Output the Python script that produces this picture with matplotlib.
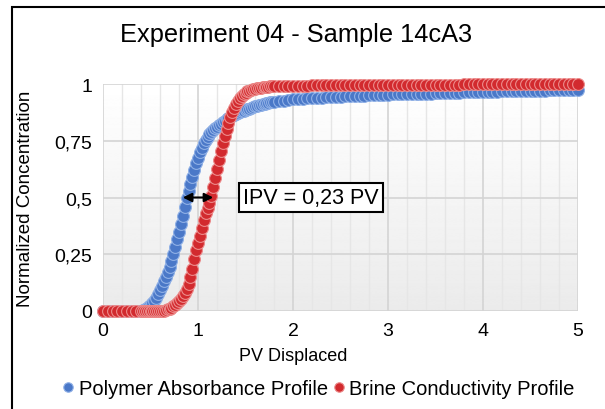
import numpy as np
import matplotlib.pyplot as plt
from matplotlib.patches import Rectangle

plt.rcParams['font.family'] = ['Liberation Sans', 'DejaVu Sans']

# ================== data ==================
pv = [0.00, 0.05, 0.10, 0.15, 0.20, 0.25, 0.30, 0.35,
      0.40, 0.42, 0.44, 0.46, 0.48, 0.50, 0.52, 0.54, 0.56, 0.58,
      0.60, 0.62, 0.64, 0.66, 0.68, 0.70, 0.72, 0.74, 0.76, 0.78,
      0.80, 0.82, 0.84, 0.86, 0.88, 0.90, 0.92, 0.94, 0.96, 0.98,
      1.00, 1.02, 1.04, 1.06, 1.08, 1.10, 1.12, 1.14, 1.16, 1.18,
      1.20, 1.22, 1.24, 1.26, 1.28, 1.30, 1.32, 1.34, 1.36, 1.38,
      1.40, 1.42, 1.44, 1.46, 1.48, 1.50, 1.52, 1.54, 1.56, 1.58,
      1.60, 1.62, 1.64, 1.66, 1.68, 1.70, 1.72, 1.74, 1.76, 1.78, 1.80,
      1.85, 1.90, 1.95, 2.00, 2.05, 2.10, 2.15, 2.20, 2.25, 2.30,
      2.35, 2.40, 2.45, 2.50, 2.55, 2.60, 2.65, 2.70, 2.75, 2.80,
      2.85, 2.90, 2.95, 3.00, 3.05, 3.10, 3.15, 3.20, 3.25, 3.30,
      3.35, 3.40, 3.45, 3.50, 3.55, 3.60, 3.65, 3.70, 3.75, 3.80,
      3.85, 3.90, 3.95, 4.00, 4.05, 4.10, 4.15, 4.20, 4.25, 4.30,
      4.35, 4.40, 4.45, 4.50, 4.55, 4.60, 4.65, 4.70, 4.75, 4.80,
      4.85, 4.90, 4.95, 5.00]

polymer = [0, 0, 0, 0, 0, 0, 0, 0,
           0.000, 0.003, 0.007, 0.013, 0.020, 0.027, 0.035, 0.045, 0.058, 0.075,
           0.092, 0.110, 0.130, 0.150, 0.172, 0.195, 0.220, 0.250, 0.280, 0.315,
           0.350, 0.385, 0.420, 0.460, 0.500, 0.530, 0.560, 0.590, 0.620, 0.650,
           0.675, 0.700, 0.720, 0.740, 0.755, 0.768, 0.780, 0.790, 0.798, 0.805,
           0.812, 0.818, 0.825, 0.832, 0.838, 0.845, 0.850, 0.855, 0.860, 0.864,
           0.868, 0.872, 0.875, 0.879, 0.882, 0.886, 0.889, 0.892, 0.895, 0.898,
           0.901, 0.904, 0.906, 0.909, 0.911, 0.913, 0.915, 0.917, 0.919, 0.921, 0.922,
           0.924, 0.927, 0.929, 0.932, 0.934, 0.935, 0.937, 0.938, 0.939, 0.940,
           0.941, 0.942, 0.943, 0.944, 0.945, 0.946, 0.947, 0.948, 0.949, 0.950,
           0.951, 0.952, 0.952, 0.953, 0.954, 0.954, 0.955, 0.956, 0.956, 0.957,
           0.957, 0.958, 0.958, 0.959, 0.960, 0.960, 0.961, 0.961, 0.962, 0.963,
           0.963, 0.964, 0.964, 0.965, 0.965, 0.966, 0.966, 0.967, 0.967, 0.968,
           0.968, 0.969, 0.969, 0.970, 0.970, 0.971, 0.971, 0.972, 0.972, 0.973,
           0.973, 0.974, 0.974, 0.975]

brine = [0, 0, 0, 0, 0, 0, 0, 0,
         0, 0, 0, 0, 0, 0, 0, 0, 0, 0,
         0, 0, 0.002, 0.004, 0.007, 0.010, 0.015, 0.020, 0.027, 0.035,
         0.045, 0.055, 0.067, 0.080, 0.097, 0.120, 0.150, 0.185, 0.230, 0.270,
         0.300, 0.330, 0.365, 0.400, 0.430, 0.455, 0.475, 0.505, 0.545, 0.585,
         0.625, 0.665, 0.705, 0.740, 0.770, 0.800, 0.830, 0.855, 0.875, 0.895,
         0.910, 0.925, 0.937, 0.947, 0.955, 0.962, 0.967, 0.971, 0.974, 0.977,
         0.979, 0.981, 0.983, 0.984, 0.985, 0.986, 0.987, 0.988, 0.989, 0.990, 0.990,
         0.991, 0.991, 0.992, 0.992, 0.993, 0.993, 0.993, 0.994, 0.994, 0.994,
         0.994, 0.995, 0.995, 0.995, 0.995, 0.995, 0.995, 0.996, 0.996, 0.996,
         0.996, 0.996, 0.996, 0.996, 0.996, 0.996, 0.997, 0.997, 0.997, 0.997,
         0.997, 0.997, 0.997, 0.997, 0.997, 0.997, 0.997, 0.997, 0.997, 0.998,
         0.998, 0.998, 0.998, 0.998, 0.998, 0.998, 0.998, 0.998, 0.998, 0.998,
         0.998, 0.998, 0.998, 0.998, 0.998, 0.998, 0.998, 0.998, 0.998, 0.998,
         0.998, 0.998, 0.998, 0.998]

ytick_vals = [0, 0.25, 0.5, 0.75, 1]
ytick_labels = ['0', '0,25', '0,5', '0,75', '1']
xtick_vals = [0, 1, 2, 3, 4, 5]
ipv_left, ipv_right = 0.84, 1.16
ipv_text = 'IPV = 0,23 PV'

BLUE = '#4a78c8'
RED = '#d22a2e'

# ================== figure ==================
fig = plt.figure(figsize=(6.05, 4.10), dpi=100)
fig.patches.append(Rectangle((12/605, -0.1), 1.2, 1.1 - 8/410, transform=fig.transFigure,
                             fill=False, ec='black', lw=1.5))

ax = fig.add_axes([103/605, 1 - 312/410, 475/605, 227/410])
ax.set_xlim(0, 5)
ax.set_ylim(0, 1)

# subtle vertical gradient behind the plot area
grad = np.linspace(0.92, 1.0, 256).reshape(-1, 1)
ax.imshow(grad, extent=[0, 5, 0, 1], origin='lower', aspect='auto',
          cmap='gray', vmin=0, vmax=1, zorder=0)

for s in ax.spines.values():
    s.set_visible(False)

ax.set_xticks(xtick_vals)
ax.set_xticks(np.arange(0, 5.01, 0.2), minor=True)
ax.set_yticks(ytick_vals)
ax.set_yticklabels(ytick_labels)
ax.tick_params(which='both', length=0)
ax.tick_params(axis='y', labelsize=14, pad=8)
ax.tick_params(axis='x', labelsize=14, pad=8)
ax.grid(which='major', color='#d4d4d4', lw=1.2, zorder=1)
ax.grid(which='minor', axis='x', color='#e6e6e6', lw=1.0, zorder=1)
ax.set_axisbelow(True)

ax.plot(pv, polymer, 'o', ms=8.5, mfc=BLUE, mec='#8fb0e6', mew=0.8,
        clip_on=False, zorder=3, label='Polymer Absorbance Profile')
ax.plot(pv, brine, 'o', ms=8.5, mfc=RED, mec='#ec8a8a', mew=0.8,
        clip_on=False, zorder=4, label='Brine Conductivity Profile')

ax.annotate('', xy=(ipv_left, 0.5), xytext=(ipv_right, 0.5),
            arrowprops=dict(arrowstyle='<|-|>', color='black', lw=1.5,
                            mutation_scale=13, shrinkA=0, shrinkB=0), zorder=6)
ax.text(2.19, 0.5, ipv_text, ha='center', va='center', fontsize=15.5, zorder=6,
        bbox=dict(boxstyle='square,pad=0.2', fc='white', ec='black', lw=1.5))

fig.text(296/605, 1 - 35/410, 'Experiment 04 - Sample 14cA3', fontsize=18.3,
         ha='center', va='center')
ax.set_ylabel('Normalized Concentration', fontsize=13.5)
ax.yaxis.set_label_coords(-0.145, 0.5)
ax.set_xlabel('PV Displaced', fontsize=13)
ax.xaxis.set_label_coords(0.4, -0.16)

fig.legend(loc='center', bbox_to_anchor=(0.527, 0.05), ncol=2, frameon=False,
           fontsize=14.5, handlelength=0.5, handletextpad=0.25, columnspacing=0.3,
           markerscale=0.8)

fig.savefig('out.png', dpi=100)
